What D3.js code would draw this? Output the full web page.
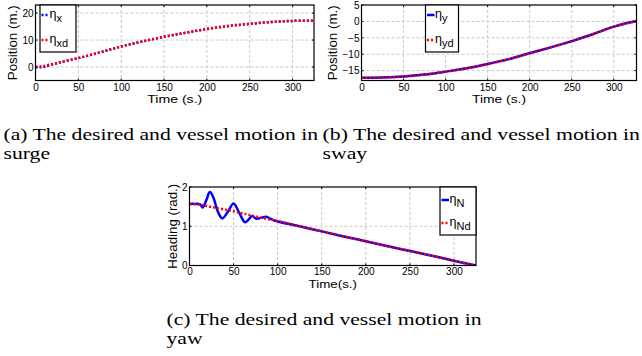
<!DOCTYPE html>
<html>
<head>
<meta charset="utf-8">
<script src="https://cdn.jsdelivr.net/npm/d3@7"></script>
<style>
  body { margin: 0; background: #fff; }
  svg { display: block; }
</style>
</head>
<body>
<div id="chart"></div>
<script>
// surge
var timeA = [0, 5, 10, 25, 50, 75, 100, 125, 150, 175, 200, 225, 250, 275, 300, 325];
var etaX  = [0, -0.1, 0.1, 1.4, 3.3, 5.4, 7.6, 9.5, 11.2, 12.7, 14.1, 15.2, 16.0, 16.7, 17.1, 17.2];
var etaXd = [0, 0.2, 0.4, 1.5, 3.3, 5.4, 7.6, 9.5, 11.2, 12.7, 14.1, 15.2, 16.0, 16.7, 17.1, 17.2];

// sway
var timeB = [0, 25, 50, 75, 100, 125, 150, 175, 200, 225, 250, 275, 300, 327];
var etaY  = [-17.2, -17.1, -16.8, -16.2, -15.3, -14.3, -13.0, -11.5, -9.7, -7.9, -6.0, -3.9, -1.6, 0.1];
var etaYd = [-17.2, -17.1, -16.8, -16.2, -15.3, -14.3, -13.0, -11.5, -9.7, -7.9, -6.0, -3.9, -1.6, 0.1];

// yaw
var timeNd = [0, 12, 25, 50, 75, 100, 125, 150, 175, 200, 225, 250, 275, 300, 325];
var etaNd  = [1.57, 1.55, 1.49, 1.38, 1.25, 1.13, 1.00, 0.87, 0.74, 0.62, 0.49, 0.37, 0.25, 0.12, 0.0];
var timeN  = [0, 6, 12, 15, 19, 23, 27, 32, 37, 43, 50, 56, 63, 67, 71, 76, 82, 87, 92, 97, 125, 150, 175, 200, 225, 250, 275, 300, 325];
var etaN   = [1.57, 1.57, 1.56, 1.48, 1.66, 1.87, 1.74, 1.38, 1.20, 1.35, 1.58, 1.36, 1.10, 1.17, 1.26, 1.19, 1.22, 1.24, 1.19, 1.14, 1.00, 0.87, 0.74, 0.62, 0.49, 0.37, 0.25, 0.12, 0.0];

var xTicks  = [0, 50, 100, 150, 200, 250, 300];
var yTicksA = [0, 10, 20];
var yTicksB = [-15, -10, -5, 0, 5];
var yTicksC = [0, 1, 2];

var W = 642, H = 356;
var sans = '"Liberation Sans", Arial, sans-serif';
var serif = '"Liberation Serif", "Times New Roman", serif';

var svg = d3.select("#chart").append("svg")
  .attr("width", W)
  .attr("height", H);

// text squeezed or stretched to the width it has in the picture
function fitText(sel, len) {
  return sel.attr("textLength", len).attr("lengthAdjust", "spacingAndGlyphs");
}

function panel(cfg) {
  var x = d3.scaleLinear().domain(cfg.xDomain).range([cfg.left, cfg.right]);
  var y = d3.scaleLinear().domain(cfg.yDomain).range([cfg.bottom, cfg.top]);
  var g = svg.append("g");

  // grid
  g.selectAll(".vgrid")
    .data(xTicks.filter(function(d) { return d > cfg.xDomain[0]; }))
    .enter().append("line")
    .attr("x1", function(d) { return x(d); })
    .attr("x2", function(d) { return x(d); })
    .attr("y1", cfg.top).attr("y2", cfg.bottom)
    .attr("stroke", "#c8c8c8").attr("stroke-dasharray", "3,2");
  g.selectAll(".hgrid")
    .data(cfg.yTicks.filter(function(d) { return d > cfg.yDomain[0] && d < cfg.yDomain[1]; }))
    .enter().append("line")
    .attr("x1", cfg.left).attr("x2", cfg.right)
    .attr("y1", function(d) { return y(d); })
    .attr("y2", function(d) { return y(d); })
    .attr("stroke", "#c8c8c8").attr("stroke-dasharray", "3,2");

  // series
  var clipId = "clip" + cfg.id;
  svg.append("clipPath").attr("id", clipId)
    .append("rect")
    .attr("x", cfg.left).attr("y", cfg.top)
    .attr("width", cfg.right - cfg.left).attr("height", cfg.bottom - cfg.top);

  cfg.series.forEach(function(s) {
    var line = d3.line()
      .x(function(d, i) { return x(s.t[i]); })
      .y(function(d) { return y(d); })
      .curve(d3.curveCatmullRom);
    g.append("path")
      .datum(s.v)
      .attr("clip-path", "url(#" + clipId + ")")
      .attr("d", line)
      .attr("fill", "none")
      .attr("stroke", s.color)
      .attr("stroke-width", s.width)
      .attr("stroke-dasharray", s.dash);
  });

  // axes
  var xAxis = d3.axisBottom(x).tickValues(xTicks).tickFormat(d3.format("d"))
    .tickSize(0).tickPadding(cfg.xPad);
  var ax = g.append("g")
    .attr("transform", "translate(0," + cfg.bottom + ")")
    .attr("font-family", sans)
    .call(xAxis);
  ax.select(".domain").remove();
  ax.selectAll("text").attr("font-size", 10).attr("fill", "#000");

  var yAxis = d3.axisLeft(y).tickValues(cfg.yTicks).tickFormat(d3.format("d"))
    .tickSize(0).tickPadding(2);
  var ay = g.append("g")
    .attr("transform", "translate(" + cfg.left + ",0)")
    .attr("font-family", sans)
    .call(yAxis);
  ay.select(".domain").remove();
  ay.selectAll("text").attr("font-size", 10).attr("fill", "#000");

  // inner ticks
  xTicks.forEach(function(d) {
    g.append("line").attr("x1", x(d)).attr("x2", x(d))
      .attr("y1", cfg.bottom).attr("y2", cfg.bottom - 2).attr("stroke", "#000");
    g.append("line").attr("x1", x(d)).attr("x2", x(d))
      .attr("y1", cfg.top).attr("y2", cfg.top + 2).attr("stroke", "#000");
  });
  cfg.yTicks.forEach(function(d) {
    g.append("line").attr("x1", cfg.left).attr("x2", cfg.left + 2)
      .attr("y1", y(d)).attr("y2", y(d)).attr("stroke", "#000");
    g.append("line").attr("x1", cfg.right).attr("x2", cfg.right - 2)
      .attr("y1", y(d)).attr("y2", y(d)).attr("stroke", "#000");
  });

  // frame
  g.append("rect")
    .attr("x", cfg.left).attr("y", cfg.top)
    .attr("width", cfg.right - cfg.left).attr("height", cfg.bottom - cfg.top)
    .attr("fill", "none").attr("stroke", "#000").attr("stroke-width", 1.2);

  // labels
  fitText(g.append("text")
    .attr("x", (cfg.left + cfg.right) / 2 - cfg.xLabelLen / 2)
    .attr("y", cfg.xLabelY)
    .attr("font-family", sans).attr("font-size", 11.5)
    .text(cfg.xLabel), cfg.xLabelLen);
  fitText(g.append("text")
    .attr("transform", "translate(" + cfg.yLabelX + "," + ((cfg.top + cfg.bottom) / 2 + cfg.yLabelLen / 2) + ") rotate(-90)")
    .attr("font-family", sans).attr("font-size", 12)
    .text(cfg.yLabel), cfg.yLabelLen);

  // legend
  var lg = g.append("g");
  lg.append("rect")
    .attr("x", cfg.legend.x).attr("y", cfg.legend.y)
    .attr("width", cfg.legend.w).attr("height", cfg.legend.h)
    .attr("fill", "#fff").attr("stroke", "#000").attr("stroke-width", 1.2);
  cfg.series.forEach(function(s, i) {
    var ly = cfg.legend.y + cfg.legend.rows[i];
    lg.append("line")
      .attr("x1", cfg.legend.x + 1.5).attr("x2", cfg.legend.x + 9)
      .attr("y1", ly).attr("y2", ly)
      .attr("stroke", s.color).attr("stroke-width", s.width)
      .attr("stroke-dasharray", s.dash);
    var t = lg.append("text")
      .attr("x", cfg.legend.x + 9.5)
      .attr("y", ly + 3)
      .attr("font-family", sans).attr("font-size", 12.5);
    t.append("tspan").text("η");
    t.append("tspan").attr("dy", 4).attr("font-size", 11).text(s.sub);
  });
}

panel({
  id: "a", left: 35.5, right: 314, top: 5, bottom: 80.5,
  xDomain: [0, 325], yDomain: [-5, 23], yTicks: yTicksA, xPad: 3.5,
  xLabel: "Time (s.)", xLabelY: 102.5, xLabelLen: 55,
  yLabel: "Position (m.)", yLabelX: 17, yLabelLen: 75,
  legend: { x: 40, y: 5, w: 36, h: 47, rows: [10, 35] },
  series: [
    { t: timeA, v: etaX, color: "#0000ff", width: 2.5, dash: "2,2", sub: "x" },
    { t: timeA, v: etaXd, color: "#ff0000", width: 2.5, dash: "2,2", sub: "xd" }
  ]
});

panel({
  id: "b", left: 361.5, right: 636.5, top: 5, bottom: 80.5,
  xDomain: [0, 327], yDomain: [-18, 5], yTicks: yTicksB, xPad: 3.5,
  xLabel: "Time (s.)", xLabelY: 102.5, xLabelLen: 54,
  yLabel: "Position (m.)", yLabelX: 337, yLabelLen: 75,
  legend: { x: 425.5, y: 5, w: 33, h: 47, rows: [10, 35] },
  series: [
    { t: timeB, v: etaY, color: "#0000ff", width: 2.5, dash: null, sub: "y" },
    { t: timeB, v: etaYd, color: "#ff0000", width: 2.5, dash: "2,2", sub: "yd" }
  ]
});

panel({
  id: "c", left: 189.5, right: 476, top: 187, bottom: 265.5,
  xDomain: [0, 325], yDomain: [0, 2], yTicks: yTicksC, xPad: 2,
  xLabel: "Time(s.)", xLabelY: 287.5, xLabelLen: 48.5,
  yLabel: "Heading (rad.)", yLabelX: 176.5, yLabelLen: 85,
  legend: { x: 440, y: 187, w: 36, h: 48, rows: [13, 36] },
  series: [
    { t: timeN, v: etaN, color: "#0000ff", width: 2.5, dash: null, sub: "N" },
    { t: timeNd, v: etaNd, color: "#ff0000", width: 2.5, dash: "2,2", sub: "Nd" }
  ]
});

// captions: first line spans the whole sub-figure width, second line uses the same stretch
function caption(x0, x1, y, line1, line2) {
  var g = svg.append("g").attr("font-family", serif).attr("font-size", 17.5);
  var t1 = g.append("text").attr("x", x0).attr("y", y).text(line1);
  var natural = t1.node().getComputedTextLength();
  var sx = (x1 - x0) / natural;
  fitText(t1, x1 - x0);
  var t2 = g.append("text").attr("x", x0).attr("y", y + 18.5).text(line2);
  fitText(t2, t2.node().getComputedTextLength() * sx);
}

caption(3.5, 318, 140, "(a) The desired and vessel motion in", "surge");
caption(322.5, 640, 140, "(b) The desired and vessel motion in", "sway");
caption(166.5, 481.5, 325, "(c) The desired and vessel motion in", "yaw");
</script>
</body>
</html>
